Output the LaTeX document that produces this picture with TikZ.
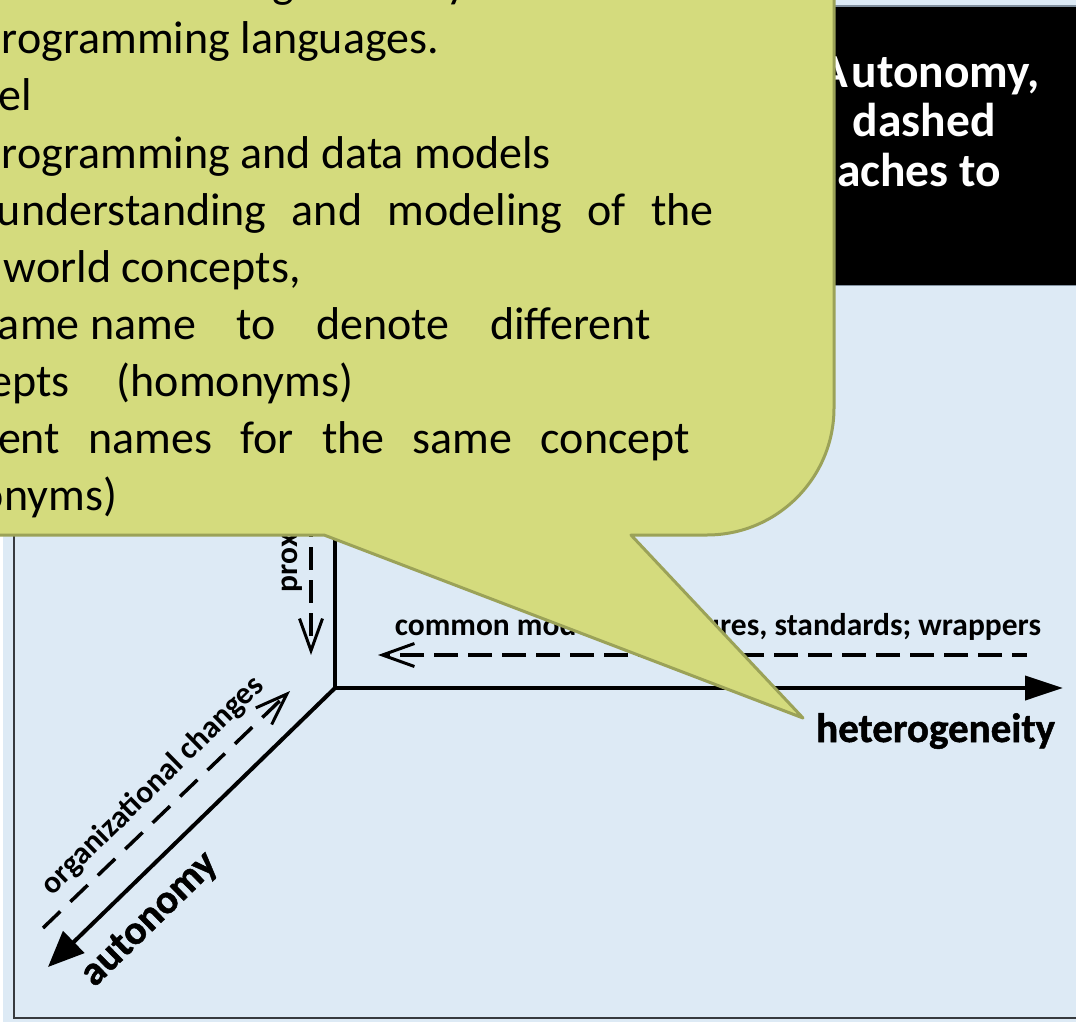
\documentclass[tikz,border=0pt]{standalone}
\usepackage{fontspec}
\setmainfont{Carlito}
\newfontfamily\heavyfont{Carlito}[FakeBold=1.2]
\usetikzlibrary{arrows.meta}

\definecolor{panelblue}{RGB}{221,234,245}
\definecolor{bubblefill}{RGB}{212,219,125}
\definecolor{bubbleedge}{RGB}{155,162,88}
\definecolor{framegray}{RGB}{55,58,62}
\definecolor{rulegray}{RGB}{130,145,160}

\begin{document}
\begin{tikzpicture}[x=1pt,y=-1pt,
  txt/.style={inner sep=0pt, outer sep=0pt},
  bubbletext/.style={txt, anchor=base west, font=\fontsize{46}{57}\selectfont},
  titletext/.style={txt, anchor=base west, text=white, font=\bfseries\fontsize{47.5}{49}\selectfont},
  axislabel/.style={txt, font=\heavyfont\bfseries\fontsize{41}{41}\selectfont},
  hintlabel/.style={txt, font=\bfseries\fontsize{31.5}{32}\selectfont},
  axis/.style={line width=4pt, black},
  hint/.style={line width=3.5pt, black},
  openhead/.style={-{Straight Barb[length=32pt,width=23pt,line width=3pt]}},
]
\useasboundingbox (0,0) rectangle (1076,1022);

% panel background and frame
\fill[white] (0,0) rectangle (1076,1022);
\fill[panelblue] (3,0) rectangle (1076,1022);
\draw[framegray, line width=1.5pt] (14,0) -- (14,1018) -- (1076,1018);

% title bar
\fill[black] (560,6) rectangle (1076,285);
\draw[rulegray, line width=1.2pt] (560,6) -- (1076,6);
\draw[rulegray, line width=1pt] (560,285.5) -- (1076,285.5);
\node[titletext] (t1) at (828,88) {\llap{Heterogeneity, }\kern-9pt A\kern4pt utonomy,};
\node[titletext] (t2) at (853,137) {\llap{the\hspace{17pt}}dashed};
\node[titletext] (t3) at (837,186) {\llap{appro}aches to};

% the three axes
\coordinate (o) at (335,688);
\coordinate (distEnd) at (335,515);
\coordinate (hetEnd) at (1063,688);
\coordinate (autEnd) at (48,967);
\draw[axis] (o) -- (distEnd);
\draw[axis, -{Triangle[length=38pt,width=24pt]}] (o) -- (hetEnd);
\draw[axis, -{Triangle[length=36pt,width=30pt]}] (o) -- (autEnd);

% dashed counter-arrows
\coordinate (proxStart) at (311,448);
\coordinate (proxEnd) at (311,655);
\coordinate (stdStart) at (1027,655);
\coordinate (stdEnd) at (378,655);
\coordinate (orgStart) at (43,928);
\coordinate (orgEnd) at (290,691);
\draw[hint, dash pattern=on 23pt off 10pt, openhead] (proxStart) -- (proxEnd);
\draw[hint, dash pattern=on 24pt off 10pt, dash phase=9pt, openhead] (stdStart) -- (stdEnd);
\draw[hint, dash pattern=on 24pt off 14pt, openhead] (orgStart) -- (orgEnd);

% labels
\node[hintlabel, anchor=base west, rotate=90] (lprox) at (297,592) {proximity};
\node[hintlabel, anchor=base east] (lstd) at (1041,635) {common models, structures, standards; wrappers};
\node[hintlabel, rotate=44.5] (lorg) at (153,786) {organizational changes};
\node[axislabel, anchor=base east] (lhet) at (1055,742) {heterogeneity};
\node[axislabel, rotate=44.3] (laut) at (150,920) {autonomy};

% speech bubble
\filldraw[fill=bubblefill, draw=bubbleedge, line width=3pt, line join=round]
  (-10,-10) -- (834,-10) -- (834,408)
  .. controls (834,478) and (777,535) .. (707,535)
  -- (631,535) -- (803,718) -- (324,535) -- (-10,535) -- cycle;

% bubble text
\node[bubbletext] (b0a) at (272,-2) {g};
\node[bubbletext] (b0b) at (446,-2) {y};
\node[bubbletext] (b1) at (2,54) {\llap{p}rogramming languages.};
\node[bubbletext] (b2) at (-1,111) {\llap{Mod}el};
\node[bubbletext] (b3) at (2,168) {\llap{p}rogramming and data models};
\node[bubbletext] (b4) at (-3,225) {\makebox[717pt][s]{understanding and modeling of the}};
\node[bubbletext] (b5) at (4,282) {\llap{real }world concepts,};
\node[bubbletext] (b6) at (-2,339) {\makebox[653pt][s]{\llap{s}ame\kern0.23em name to denote different}};
\node[bubbletext, anchor=base east] (b7) at (353,396) {concepts\hspace{47pt}(homonyms)};
\node[bubbletext] (b8) at (-2,453) {\makebox[692pt][s]{\llap{differ}ent names for the same concept}};
\node[bubbletext, anchor=base east] (b9) at (117,510) {(synonyms)};
\end{tikzpicture}
\end{document}
